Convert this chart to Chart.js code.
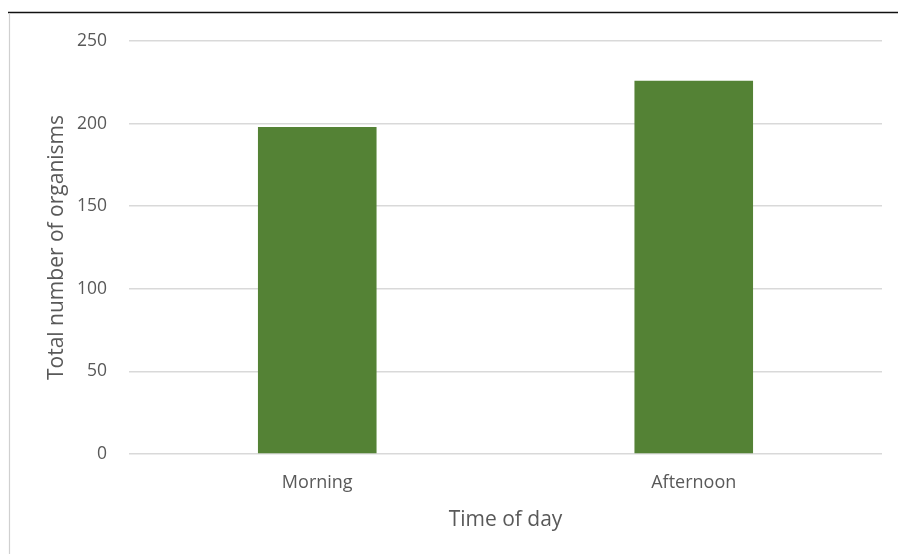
<!DOCTYPE html>
<html>
<head>
<meta charset="utf-8">
<script src="https://cdn.jsdelivr.net/npm/chart.js@4/dist/chart.umd.min.js"></script>
<style>
  html, body { margin: 0; padding: 0; background: #ffffff; }
  #wrap { position: relative; width: 898px; height: 554px; }
</style>
</head>
<body>
<div id="wrap"><canvas id="chart" width="898" height="554"></canvas></div>
<script>
// Organism counts by time of day
const categories = ['Morning', 'Afternoon'];
const organismCounts = [198, 226];
const yAxisMax = 250;
const yAxisStep = 50;

const textColor = '#595959';
const barColor = '#548235';
const gridColor = '#d9d9d9';
const fontFamily = '"Open Sans", "Liberation Sans", sans-serif';

// Frame lines around the chart: dark rule on top, light rule on the left
const framePlugin = {
  id: 'frame',
  afterDraw(chart) {
    const ctx = chart.ctx;
    ctx.save();
    ctx.strokeStyle = '#111111';
    ctx.lineWidth = 1.5;
    ctx.beginPath();
    ctx.moveTo(8, 12.5);
    ctx.lineTo(898, 12.5);
    ctx.stroke();
    ctx.strokeStyle = '#d0d0d0';
    ctx.lineWidth = 1.2;
    ctx.beginPath();
    ctx.moveTo(9.5, 13);
    ctx.lineTo(9.5, 554);
    ctx.stroke();
    ctx.restore();
  }
};

new Chart(document.getElementById('chart'), {
  type: 'bar',
  data: {
    labels: categories,
    datasets: [{
      data: organismCounts,
      backgroundColor: barColor,
      borderWidth: 0,
      categoryPercentage: 0.315,
      barPercentage: 1.0
    }]
  },
  options: {
    responsive: false,
    animation: false,
    layout: { padding: { left: 0, right: 16, top: 41, bottom: 0 } },
    plugins: {
      legend: { display: false },
      tooltip: { enabled: false }
    },
    scales: {
      x: {
        grid: { display: false, drawTicks: false },
        border: { display: false },
        ticks: {
          color: textColor,
          padding: 18,
          font: { family: fontFamily, size: 18 }
        },
        title: {
          display: true,
          text: 'Time of day',
          color: textColor,
          padding: { top: 0, bottom: 21 },
          font: { family: fontFamily, size: 21 }
        },
        afterFit(scale) { scale.height = 100; }
      },
      y: {
        min: 0,
        max: yAxisMax,
        grid: { color: gridColor, lineWidth: 1.5, drawTicks: false },
        border: { display: false },
        ticks: {
          stepSize: yAxisStep,
          color: textColor,
          padding: 22,
          font: { family: fontFamily, size: 17.5 }
        },
        title: {
          display: true,
          text: 'Total number of organisms',
          color: textColor,
          padding: { top: 44, bottom: 0 },
          font: { family: fontFamily, size: 21 }
        },
        afterFit(scale) { scale.width = 129; }
      }
    }
  },
  plugins: [framePlugin]
});
</script>
</body>
</html>
